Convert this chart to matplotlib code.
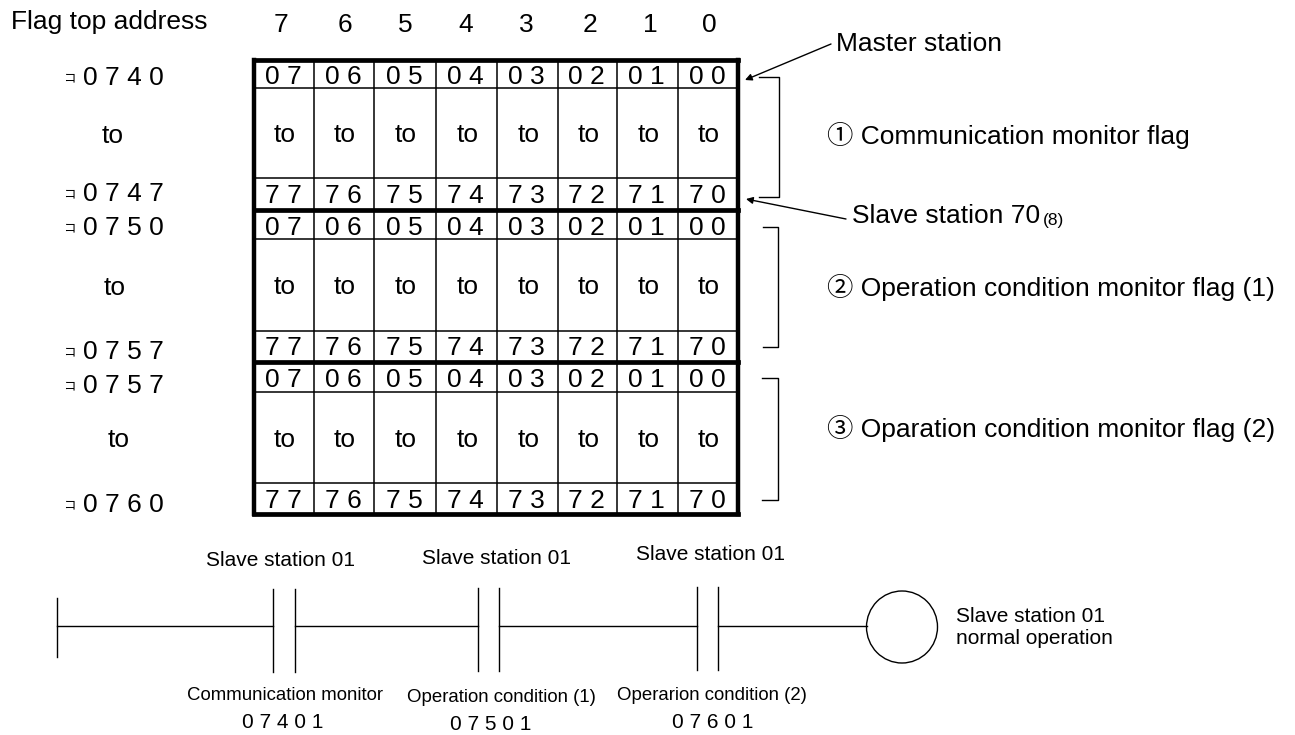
import matplotlib
matplotlib.use('Agg')
import matplotlib.pyplot as plt
from matplotlib.patches import Ellipse

plt.rcParams['font.family'] = ['Liberation Sans', 'Noto Sans CJK JP', 'DejaVu Sans']

# diagram content
bit_labels = ['7', '6', '5', '4', '3', '2', '1', '0']
top_cells = ['07', '06', '05', '04', '03', '02', '01', '00']
bottom_cells = ['77', '76', '75', '74', '73', '72', '71', '70']
addresses = ['0740', '0747', '0750', '0757', '0757', '0760']
flag_names = ['① Communication monitor flag',
              '② Operation condition monitor flag (1)',
              '③ Oparation condition monitor flag (2)']
contact_names = ['Slave station 01', 'Slave station 01', 'Slave station 01']
condition_names = ['Communication monitor', 'Operation condition (1)', 'Operarion condition (2)']
device_numbers = ['07401', '07501', '07601']

# layout, in reference pixels
col_edges = [254, 314, 374, 436, 497, 558, 617, 678, 738]
col_text_x = [281, 345, 405, 466, 526, 590, 650, 709]
blocks = [(60, 88, 178, 210), (210, 239, 331, 361), (362, 392, 483, 514)]
band_y = [60, 210, 361.5, 514]
address_y = [78, 194, 228, 352, 386, 505]
to_pos = [(113, 136), (115, 288), (119, 440)]
brackets = [(759, 779, 77, 197), (763, 778, 227, 347), (762, 778, 378, 500)]
flag_y = [135, 287, 428]
contacts = [(273, 295), (478, 499), (697, 718)]
contact_y = [(589, 672), (588, 671), (587, 670)]
name_pos = [(281, 560), (497, 558), (711, 555)]
cond_pos = [(285, 695), (501, 697), (712, 696)]
dev_pos = [(283, 723), (491, 724), (713, 723)]
rail_y = 626


def spaced(s):
    return ' '.join(s)


fig = plt.figure(figsize=(12.95, 7.35), dpi=100)
ax = fig.add_axes([0, 0, 1, 1])
ax.set_xlim(0, 1295)
ax.set_ylim(735, 0)
ax.axis('off')

ax.text(11, 22, 'Flag top address', fontsize=19, ha='left', va='center')
for x, s in zip(col_text_x, bit_labels):
    ax.text(x, 25, s, fontsize=19, ha='center', va='center')

# register table
for top, row1, row2, bottom in blocks:
    for x in col_edges[1:-1]:
        ax.plot([x, x], [top, bottom], color='black', lw=1.1)
    for y in (row1, row2):
        ax.plot([col_edges[0], col_edges[-1]], [y, y], color='black', lw=1.1)
    for i in range(8):
        cx = (col_edges[i] + col_edges[i + 1]) / 2
        ax.text(cx - 1, (top + row1) / 2 + 3, spaced(top_cells[i]), fontsize=19, ha='center', va='center')
        ax.text(cx + 1, (row1 + row2) / 2 + 2, 'to', fontsize=19, ha='center', va='center')
        ax.text(cx - 1, (row2 + bottom) / 2 + 2, spaced(bottom_cells[i]), fontsize=19, ha='center', va='center')
for y in band_y:
    ax.plot([col_edges[0], col_edges[-1]], [y, y], color='black', lw=3.4, solid_capstyle='projecting')
for x in (col_edges[0], col_edges[-1]):
    ax.plot([x, x], [band_y[0], band_y[-1]], color='black', lw=3.2, solid_capstyle='projecting')

# addresses on the left
for s, y in zip(addresses, address_y):
    ax.text(69, y, 'コ', fontsize=9, ha='center', va='center')
    ax.text(123, y, spaced(s), fontsize=19, ha='center', va='center')
for x, y in to_pos:
    ax.text(x, y, 'to', fontsize=19, ha='center', va='center')

# brackets and flag names
for x0, x1, y0, y1 in brackets:
    ax.plot([x0, x1, x1, x0], [y0, y0, y1, y1], color='black', lw=1)
for s, y in zip(flag_names, flag_y):
    ax.text(827, y, s, fontsize=19, ha='left', va='center')

# callouts
ax.annotate('', xy=(745, 80), xytext=(831, 44),
            arrowprops=dict(arrowstyle='-|>', color='black', lw=1, shrinkA=0, shrinkB=0))
ax.annotate('', xy=(746, 199), xytext=(846, 219),
            arrowprops=dict(arrowstyle='-|>', color='black', lw=1, shrinkA=0, shrinkB=0))
ax.text(836, 44, 'Master station', fontsize=19, ha='left', va='center')
ax.text(852, 216, 'Slave station 70', fontsize=19, ha='left', va='center')
ax.text(1043, 220, '(8)', fontsize=12.5, ha='left', va='center')

# ladder rung
ax.plot([57, 57], [598, 657], color='black', lw=1)
rail_x = [57, 273, 295, 478, 499, 697, 718, 867]
for x0, x1 in zip(rail_x[0::2], rail_x[1::2]):
    ax.plot([x0, x1], [rail_y, rail_y], color='black', lw=1)
for (x0, x1), (y0, y1) in zip(contacts, contact_y):
    ax.plot([x0, x0], [y0, y1], color='black', lw=1)
    ax.plot([x1, x1], [y0, y1], color='black', lw=1)
for s, (x, y) in zip(contact_names, name_pos):
    ax.text(x, y, s, fontsize=15, ha='center', va='center')
for s, (x, y) in zip(condition_names, cond_pos):
    ax.text(x, y, s, fontsize=13.4, ha='center', va='center')
for s, (x, y) in zip(device_numbers, dev_pos):
    ax.text(x, y, spaced(s), fontsize=15, ha='center', va='center')
ax.add_patch(Ellipse((902, 627), 71, 72, fill=False, edgecolor='black', lw=1))
ax.text(956, 617, 'Slave station 01', fontsize=15, ha='left', va='center')
ax.text(956, 639, 'normal operation', fontsize=15, ha='left', va='center')

fig.savefig('out.png', dpi=100)
